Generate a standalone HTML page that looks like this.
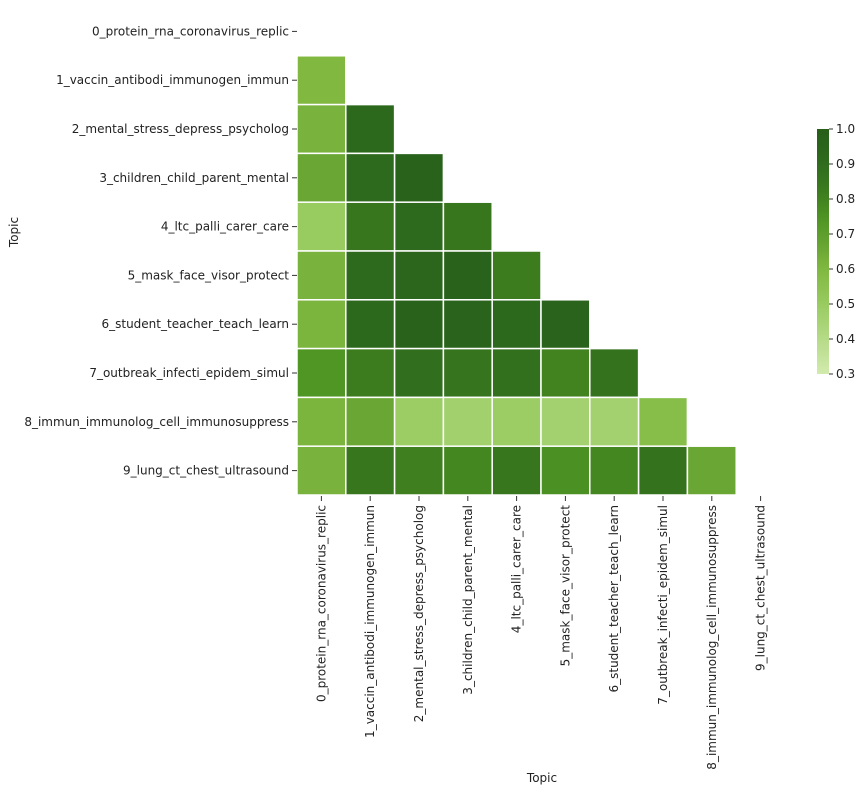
<!DOCTYPE html>
<html><head><meta charset="utf-8"><style>
body{margin:0;background:#fff;font-family:"Liberation Sans","DejaVu Sans",sans-serif;}
svg text{font-family:"DejaVu Sans","Liberation Sans",sans-serif;font-size:12px;fill:#222;}
</style></head><body>
<svg id="chart" width="862" height="793" xmlns="http://www.w3.org/2000/svg"></svg>
<script>
const topics = ["0_protein_rna_coronavirus_replic","1_vaccin_antibodi_immunogen_immun","2_mental_stress_depress_psycholog","3_children_child_parent_mental","4_ltc_palli_carer_care","5_mask_face_visor_protect","6_student_teacher_teach_learn","7_outbreak_infecti_epidem_simul","8_immun_immunolog_cell_immunosuppress","9_lung_ct_chest_ultrasound"];
const row1 = [0.60];
const row2 = [0.62,0.92];
const row3 = [0.66,0.91,0.97];
const row4 = [0.50,0.85,0.91,0.85];
const row5 = [0.62,0.91,0.94,0.97,0.82];
const row6 = [0.61,0.92,0.97,0.96,0.92,0.96];
const row7 = [0.74,0.82,0.89,0.86,0.88,0.80,0.87];
const row8 = [0.61,0.66,0.49,0.47,0.49,0.46,0.46,0.57];
const row9 = [0.62,0.85,0.81,0.79,0.85,0.76,0.79,0.87,0.66];
const rows = [[],row1,row2,row3,row4,row5,row6,row7,row8,row9];
const cbTicks = [0.3,0.4,0.5,0.6,0.7,0.8,0.9,1.0];
const vmin=0.3, vmax=1.0;
const stops=[[0.3,[210,234,174]],[0.5,[152,203,96]],[0.6,[128,184,64]],[0.66,[106,166,52]],[0.74,[80,150,36]],[0.82,[61,124,30]],[0.91,[46,106,29]],[1.0,[39,94,25]]];
function color(v){
  v=Math.max(vmin,Math.min(vmax,v));
  for(let i=0;i<stops.length-1;i++){const a=stops[i],b=stops[i+1];
    if(v<=b[0]){const t=(v-a[0])/(b[0]-a[0]);return `rgb(${a[1].map((c,k)=>Math.round(c+(b[1][k]-c)*t)).join(',')})`;}}
  return 'rgb(39,94,25)';
}
const NS="http://www.w3.org/2000/svg", svg=document.getElementById('chart');
function el(t,a,p){const e=document.createElementNS(NS,t);for(const k in a)e.setAttribute(k,a[k]);(p||svg).appendChild(e);return e;}
const x0=297,y0=7,cw=48.8,ch=48.8;
const xPos=i=>x0+i*cw, yPos=i=>y0+i*ch;
rows.forEach((r,i)=>r.forEach((v,j)=>{
  const c=el('rect',{x:xPos(j),y:yPos(i),width:cw,height:ch,fill:color(v),stroke:'#fff','stroke-width':1.5});
  
  
}));
topics.forEach((t,i)=>{
  const yc=yPos(i)+ch/2;
  el('line',{x1:292,x2:297,y1:yc,y2:yc,stroke:'#333'});
  const tx=el('text',{x:289,y:yc+4,'text-anchor':'end'});tx.textContent=t;
  
  
  const xc=xPos(i)+cw/2;
  el('line',{x1:xc,x2:xc,y1:496,y2:501,stroke:'#333'});
  const lx=el('text',{x:0,y:0,'text-anchor':'end',transform:`translate(${xc+4},505) rotate(-90)`});lx.textContent=t;
  
  
});
const yt=el('text',{x:0,y:0,'text-anchor':'middle',transform:'translate(18,232) rotate(-90)'});yt.textContent='Topic';


const xt=el('text',{x:542,y:782,'text-anchor':'middle'});xt.textContent='Topic';


// colorbar
const cbx=817,cbw=12,cbTop=129,cbBot=374;
const cbY=v=>cbBot-(v-vmin)/(vmax-vmin)*(cbBot-cbTop);
const defs=el('defs',{});const g=el('linearGradient',{id:'cbg',x1:0,y1:1,x2:0,y2:0},defs);
for(let k=0;k<=20;k++){const v=vmin+(vmax-vmin)*k/20;el('stop',{offset:k/20,'stop-color':color(v)},g);}
const cb=el('rect',{x:cbx,y:cbTop,width:cbw,height:cbBot-cbTop,fill:'url(#cbg)'});


cbTicks.forEach(v=>{const y=cbY(v);el('line',{x1:cbx+cbw,x2:cbx+cbw+4,y1:y,y2:y,stroke:'#333'});
  const t=el('text',{x:cbx+cbw+7,y:y+4});t.textContent=v.toFixed(1);
  
  });
</script>
</body></html>
